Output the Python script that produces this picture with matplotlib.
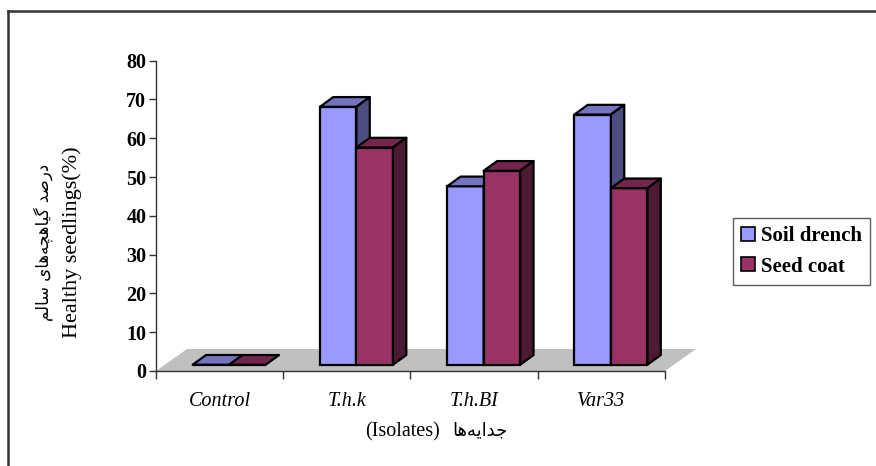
import numpy as np
import matplotlib.pyplot as plt
from matplotlib.patches import Polygon, Patch
from matplotlib.lines import Line2D

# isolates and healthy seedling percentages
isolates = ["Control", "T.h.k", "T.h.BI", "Var33"]
soil_drench = [0, 66.5, 46, 64.5]
seed_coat = [0, 56, 50, 45.5]
series_names = ["Soil drench", "Seed coat"]
yticks = [0, 10, 20, 30, 40, 50, 60, 70, 80]

# Persian labels written in visual order with presentation forms
fa_ylabel = ("\uFEE2\uFEDF\uFE8E\uFEB3 "
             "\uFBFC\uFE8E\uFEEB\uFEEA\uFB7D\uFEEB\uFE8E\uFBFF\uFB94 "
             "\uFEAA\uFEBB\uFEAD\uFEA9")
fa_xlabel = "\uFE8E\uFEEB\uFEEA\uFBFE\uFE8D\uFEAA\uFE9F"

# face colours: front, top, side
soil_cols = ("#9999FF", "#7373C0", "#4D4D80")
seed_cols = ("#993366", "#73264D", "#4D1A33")
floor_col = "#C0C0C0"

W, H = 876, 466
fig = plt.figure(figsize=(W / 100, H / 100), dpi=100)
ax = fig.add_axes([156 / W, (H - 371) / H, 509 / W, 310.3 / H])
ax.set_xlim(0, len(isolates))
ax.set_ylim(0, 80)

# pseudo 3d geometry (data units)
bar_w = 0.287
front_dx, front_dy = 0.075, 1.62
depth_dx, depth_dy = 0.105, 2.5
floor_dx, floor_dy = 0.244, 5.67
lw = 1.6

n = len(isolates)
ax.add_patch(Polygon([(0, 0), (n, 0), (n + floor_dx, floor_dy), (floor_dx, floor_dy)],
                     closed=True, facecolor=floor_col, edgecolor="none",
                     clip_on=False, zorder=1))

centers = np.arange(n) + 0.5 + front_dx
z = 2
for i in range(n):
    for j, (vals, cols) in enumerate([(soil_drench, soil_cols), (seed_coat, seed_cols)]):
        v = vals[i]
        x0 = centers[i] - bar_w + j * bar_w
        x1 = x0 + bar_w
        y0 = front_dy
        y1 = y0 + v
        ax.bar(x0, v, bar_w, bottom=y0, align="edge", color=cols[0],
               edgecolor="black", linewidth=lw, clip_on=False, zorder=z)
        top = [(x0, y1), (x1, y1), (x1 + depth_dx, y1 + depth_dy), (x0 + depth_dx, y1 + depth_dy)]
        ax.add_patch(Polygon(top, closed=True, facecolor=cols[1], edgecolor="black",
                             linewidth=lw, joinstyle="round", clip_on=False, zorder=z))
        if v > 0:
            side = [(x1, y0), (x1 + depth_dx, y0 + depth_dy),
                    (x1 + depth_dx, y1 + depth_dy), (x1, y1)]
            ax.add_patch(Polygon(side, closed=True, facecolor=cols[2], edgecolor="black",
                                 linewidth=lw, joinstyle="round", clip_on=False, zorder=z))
        z += 1

# axes styling
for s in ["top", "right"]:
    ax.spines[s].set_visible(False)
for s in ["left", "bottom"]:
    ax.spines[s].set_color("#333333")
    ax.spines[s].set_linewidth(1.0)
ax.set_yticks(yticks)
ax.set_yticklabels([str(t) for t in yticks], fontfamily="Liberation Serif",
                   fontweight="bold", fontsize=14.5)
ax.tick_params(axis="y", length=5, width=1.0, color="#333333", pad=2)
ax.set_xticks(np.arange(n + 1))
ax.set_xticklabels([])
ax.tick_params(axis="x", length=6, width=1.0, color="#333333")
for i, name in enumerate(isolates):
    ax.text(i + 0.5, -7.8, name, ha="center", va="center", fontfamily="Liberation Serif",
            fontstyle="italic", fontsize=14.5)

# axis titles
fig.text(403 / W, 1 - 432 / H, "(Isolates)", ha="center", va="center",
         fontfamily="Liberation Serif", fontsize=14.5)
fig.text(452 / W, 1 - 430 / H, fa_xlabel, ha="left", va="center",
         family=["DejaVu Sans"], fontsize=13)
fig.text(72 / W, 1 - 242 / H, "Healthy seedlings(%)", ha="center", va="center",
         rotation=90, fontfamily="Liberation Serif", fontsize=16)
fig.text(43 / W, 1 - 242 / H, fa_ylabel, ha="center", va="center",
         rotation=90, family=["DejaVu Sans"], fontsize=12)

# legend
handles = [Patch(facecolor=soil_cols[0], edgecolor="black", linewidth=1.2),
           Patch(facecolor=seed_cols[0], edgecolor="black", linewidth=1.2)]
leg = fig.legend(handles, series_names, loc="upper left",
                 bbox_to_anchor=(733 / W, 1 - 218 / H),
                 prop={"family": "Liberation Serif", "weight": "bold", "size": 15},
                 frameon=True, fancybox=False, handlelength=0.65, handleheight=0.65,
                 handletextpad=0.3, borderpad=0.4, labelspacing=0.5, borderaxespad=0)
leg.get_frame().set_edgecolor("#333333")
leg.get_frame().set_linewidth(1.0)

# outer frame lines
fig.add_artist(Line2D([8 / W, 8 / W], [0, 1 - 11 / H], color="#333333", linewidth=1.8))
fig.add_artist(Line2D([8 / W, 1], [1 - 11 / H, 1 - 11 / H], color="#333333", linewidth=1.8))

fig.savefig("out.png", dpi=100)
